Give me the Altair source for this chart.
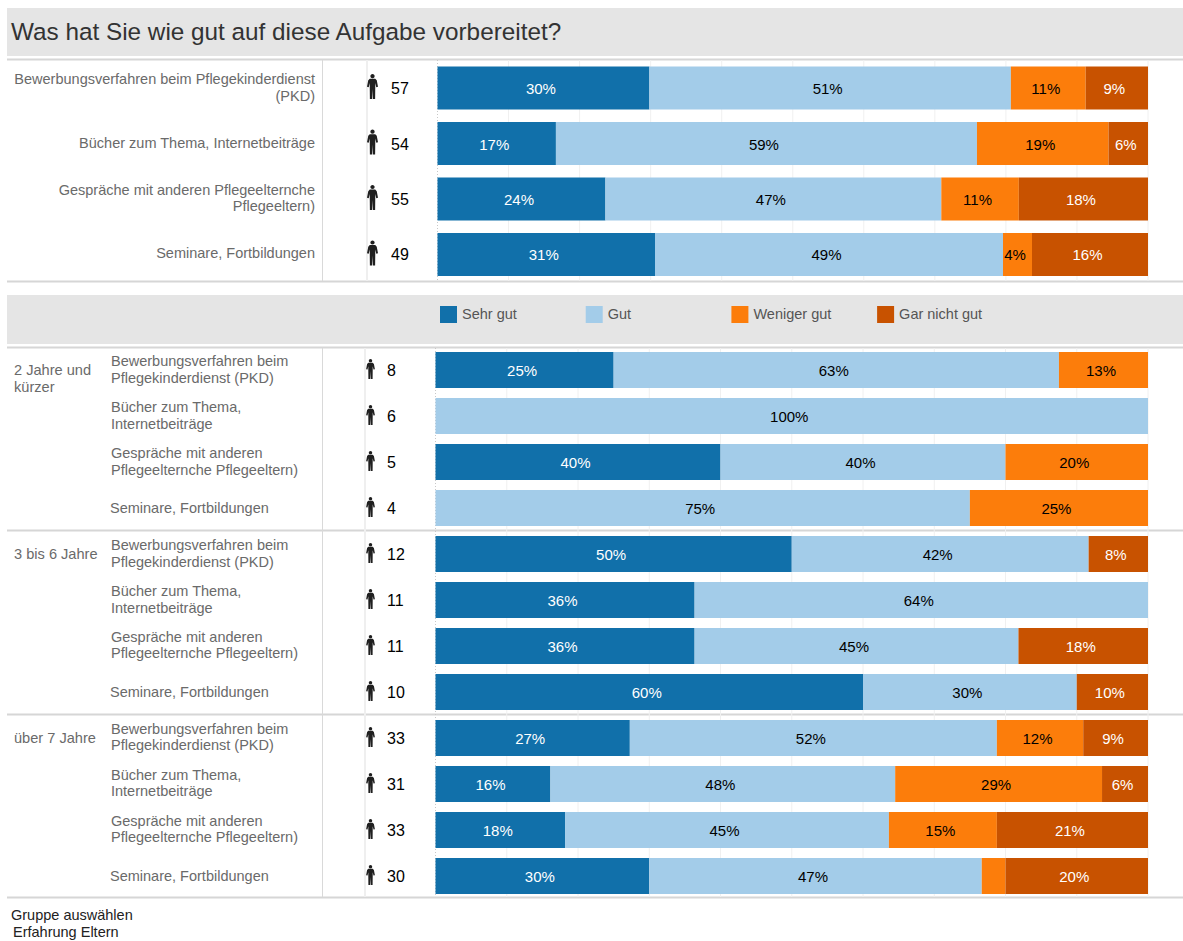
import altair as alt
import pandas as pd

FONT = "Liberation Sans"
TITLE = "Was hat Sie wie gut auf diese Aufgabe vorbereitet?"
RESPONSES = ["Sehr gut", "Gut", "Weniger gut", "Gar nicht gut"]
PALETTE = ["#1170aa", "#a3cce9", "#fc7d0b", "#c85200"]
INK = ["#ffffff", "#000000", "#000000", "#ffffff"]

TOPICS_WIDE = [
    "Bewerbungsverfahren beim Pflegekinderdienst\n(PKD)",
    "Bücher zum Thema, Internetbeiträge",
    "Gespräche mit anderen Pflegeelternche\nPflegeeltern)",
    "Seminare, Fortbildungen",
]
TOPICS_NARROW = [
    "Bewerbungsverfahren beim\nPflegekinderdienst (PKD)",
    "Bücher zum Thema,\nInternetbeiträge",
    "Gespräche mit anderen\nPflegeelternche Pflegeeltern)",
    "Seminare, Fortbildungen",
]
GROUPS = ["2 Jahre und\nkürzer", "3 bis 6 Jahre", "über 7 Jahre"]

# Answers per topic, in the order of RESPONSES.
OVERALL = [
    [17, 29, 6, 5],
    [9, 32, 10, 3],
    [13, 26, 6, 10],
    [15, 24, 2, 8],
]
BY_GROUP = [
    [[2, 5, 1, 0], [0, 6, 0, 0], [2, 2, 1, 0], [0, 3, 1, 0]],
    [[6, 5, 0, 1], [4, 7, 0, 0], [4, 5, 0, 2], [6, 3, 0, 1]],
    [[9, 17, 4, 3], [5, 15, 9, 2], [6, 15, 5, 7], [9, 14, 1, 6]],
]
GRID_TICKS = [0, 10, 20, 30, 40, 50, 60, 70, 80, 90, 100]
SMALLEST_LABEL = 4  # shares below this percentage stay unlabelled


def rows_frame(row_ids, counts):
    rows, segments = [], []
    for row_id, answers in zip(row_ids, counts):
        total = sum(answers)
        rows.append({"row": row_id, "n": total})
        start = 0
        for response, count in zip(RESPONSES, answers):
            if count == 0:
                continue
            share = count / total * 100
            segments.append(
                {
                    "row": row_id,
                    "response": response,
                    "start": start,
                    "end": start + share,
                    "mid": start + share / 2,
                    "label": f"{int(share + 0.5)}%" if share >= SMALLEST_LABEL else "",
                }
            )
            start += share
    return pd.DataFrame(rows), pd.DataFrame(segments)


blank = alt.Data(values=[{"blank": 0}])


def band(x1, x2, y1, y2, color):
    return (
        alt.Chart(blank)
        .mark_rect(color=color)
        .encode(x=alt.value(x1), x2=alt.value(x2), y=alt.value(y1), y2=alt.value(y2))
    )


def hline(y, x1=7, x2=1183, color="#d6d6d6", width=2):
    return (
        alt.Chart(blank)
        .mark_rule(color=color, strokeWidth=width)
        .encode(x=alt.value(x1), x2=alt.value(x2), y=alt.value(y))
    )


def vline(x, y1, y2, color="#d9d9d9", width=1):
    return (
        alt.Chart(blank)
        .mark_rule(color=color, strokeWidth=width)
        .encode(x=alt.value(x), y=alt.value(y1), y2=alt.value(y2))
    )


def note(text, x, y, size=14.6, color="#6a6a6a", align="left"):
    return (
        alt.Chart(pd.DataFrame({"text": [text]}))
        .mark_text(
            font=FONT,
            fontSize=size,
            color=color,
            align=align,
            baseline="middle",
            lineBreak="\n",
            lineHeight=17,
        )
        .encode(x=alt.value(x), y=alt.value(y), text="text:N")
    )


PERSON = (
    "M0,-1 C0.1,-1 0.17,-0.92 0.17,-0.83 C0.17,-0.74 0.1,-0.67 0,-0.67 "
    "C-0.1,-0.67 -0.17,-0.74 -0.17,-0.83 C-0.17,-0.92 -0.1,-1 0,-1 Z "
    "M-0.22,-0.63 L0.22,-0.63 L0.34,-0.5 L0.44,0.02 L0.3,0.06 L0.22,-0.28 "
    "L0.22,0.12 L0.21,1 L0.03,1 L0,0.2 L-0.03,1 L-0.21,1 L-0.22,0.12 "
    "L-0.22,-0.28 L-0.3,0.06 L-0.44,0.02 L-0.34,-0.5 Z"
)


def section(rows, segments, domain, x_range, y_range, inner, grid_y,
            icon_x, icon_size, icon_shift, count_x, legend=None):
    x_scale = alt.Scale(domain=[0, 100], range=x_range)
    y_scale = alt.Scale(type="band", domain=domain, range=y_range,
                        paddingInner=inner, paddingOuter=0)
    y = alt.Y("row:N", scale=y_scale, axis=None)
    grid = pd.DataFrame({"tick": GRID_TICKS[1:]})
    return [
        alt.Chart(grid)
        .mark_rule(color="#f0f0f0", strokeWidth=1)
        .encode(
            x=alt.X("tick:Q", scale=x_scale, axis=None),
            y=alt.value(grid_y[0]),
            y2=alt.value(grid_y[1]),
        ),
        alt.Chart(pd.DataFrame({"tick": GRID_TICKS[:1]}))
        .mark_rule(color="#c8c8c8", strokeWidth=1, strokeDash=[1, 2])
        .encode(
            x=alt.X("tick:Q", scale=x_scale, axis=None),
            y=alt.value(grid_y[0]),
            y2=alt.value(grid_y[1]),
        ),
        alt.Chart(segments)
        .mark_bar()
        .encode(
            x=alt.X("start:Q", scale=x_scale, axis=None),
            x2="end:Q",
            y=y,
            color=alt.Color(
                "response:N",
                scale=alt.Scale(domain=RESPONSES, range=PALETTE),
                legend=legend,
            ),
        ),
        alt.Chart(segments)
        .mark_text(font=FONT, fontSize=15, baseline="middle", dx=-2.5, dy=1)
        .encode(
            x=alt.X("mid:Q", scale=x_scale, axis=None),
            y=y,
            text="label:N",
            color=alt.Color(
                "response:N",
                scale=alt.Scale(domain=RESPONSES, range=INK),
                legend=None,
            ),
        ),
        alt.Chart(rows)
        .mark_point(
            shape=PERSON,
            filled=True,
            color="#1f1f1f",
            opacity=1,
            size=icon_size,
            yOffset=icon_shift,
        )
        .encode(x=alt.value(icon_x), y=y),
        alt.Chart(rows)
        .mark_text(font=FONT, fontSize=16, align="left", baseline="middle", color="#000000", dy=1)
        .encode(x=alt.value(count_x), y=y, text="n:Q"),
    ]


def topic_labels(frame, y_scale, x, align, shift_single):
    """One- and two-line labels are drawn apart so both sit centred on their bar."""
    wrapped = frame["topic"].str.contains("\n")
    parts = []
    for subset, dy, offset in ((frame[wrapped], -8, 0), (frame[~wrapped], shift_single, -1 if align == "left" else 0)):
        parts.append(
            alt.Chart(subset)
            .mark_text(
                font=FONT,
                fontSize=14.5,
                color="#6a6a6a",
                align=align,
                baseline="middle",
                lineBreak="\n",
                lineHeight=16.5,
                dy=dy,
            )
            .encode(
                x=alt.value(x + offset),
                y=alt.Y("row:N", scale=y_scale, axis=None),
                text="topic:N",
            )
        )
    return parts


# Overall block
top_ids = [f"a{i}" for i in range(len(OVERALL))]
top_rows, top_segments = rows_frame(top_ids, OVERALL)
top_rows["topic"] = TOPICS_WIDE
top_y = alt.Scale(type="band", domain=top_ids, range=[66.5, 276], paddingInner=0.223, paddingOuter=0)

# Block split by length of experience
low_ids, low_counts, low_topics = [], [], []
for g, group in enumerate(BY_GROUP):
    for t, answers in enumerate(group):
        low_ids.append(f"g{g}t{t}")
        low_counts.append(answers)
        low_topics.append(TOPICS_NARROW[t])
low_rows, low_segments = rows_frame(low_ids, low_counts)
low_rows["topic"] = low_topics
low_y = alt.Scale(type="band", domain=low_ids, range=[352, 894], paddingInner=0.217, paddingOuter=0)

legend = alt.Legend(
    title=None,
    orient="none",
    legendX=440,
    legendY=306,
    direction="horizontal",
    columns=4,
    gridAlign="all",
    columnPadding=39.7,
    symbolType="square",
    symbolSize=289,
    symbolStrokeWidth=0,
    labelFont=FONT,
    labelFontSize=14.5,
    labelColor="#555555",
    labelOffset=5,
)

layers = [
    band(7, 1183, 8, 56, "#e5e5e5"),
    band(7, 1183, 295, 344, "#e5e5e5"),
    hline(59.5),
    hline(281.5),
    hline(347.5),
    hline(530.5),
    hline(714.5),
    hline(897.5),
    vline(322.5, 60, 281),
    vline(322.5, 348, 897),
    vline(367, 60, 281, color="#efefef", width=2),
    vline(365, 348, 897, color="#efefef", width=2),
    note(TITLE, 11, 33, size=24.3, color="#333333"),
    note("Gruppe auswählen", 11, 916, size=14.5, color="#222222"),
    note("Erfahrung Eltern", 13, 933, size=14.5, color="#222222"),
    note(GROUPS[0], 14, 371),
    note(GROUPS[1], 14, 555),
    note(GROUPS[2], 14, 739),
]
layers += topic_labels(top_rows, top_y, 315, "right", 0)
layers += topic_labels(low_rows, low_y, 111, "left", 1)
layers += section(top_rows, top_segments, top_ids, [437.5, 1148], [66.5, 276], 0.223, (60, 281),
                  372.5, 625, -1.5, 391, legend=legend)
layers += section(low_rows, low_segments, low_ids, [435.5, 1148], [352, 894], 0.217, (348, 897),
                  370.5, 400, -1, 387)

chart = (
    alt.layer(*layers)
    .resolve_scale(x="independent", y="independent", color="independent")
    .properties(
        width=1183,
        height=941,
        padding=0,
        autosize=alt.AutoSizeParams(type="none"),
        background="#ffffff",
    )
    .configure_view(stroke=None)
)

chart.save("out.html", embed_options={"renderer": "svg", "actions": False})
